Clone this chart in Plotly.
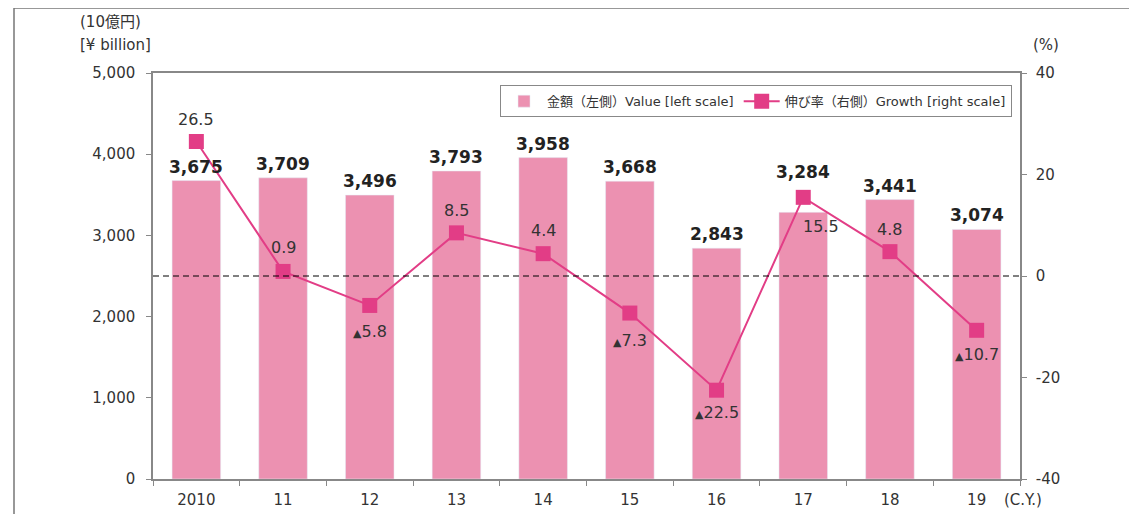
import plotly.graph_objects as go

# Data
years = ["2010", "11", "12", "13", "14", "15", "16", "17", "18", "19"]
value = [3675, 3709, 3496, 3793, 3958, 3668, 2843, 3284, 3441, 3074]
growth = [26.5, 0.9, -5.8, 8.5, 4.4, -7.3, -22.5, 15.5, 4.8, -10.7]
left_ticks = [0, 1000, 2000, 3000, 4000, 5000]
right_ticks = [-40, -20, 0, 20, 40]

# label offsets (pixels) for the value and growth labels
value_shift = [2, 2, 2, 2, 2, 2, 2, 28, 2, 2]
growth_shift = [(0, 22), (0, 24), (0, -26), (0, 22), (0, 23), (0, -27), (0, -22), (18, -29), (0, 22), (0, -24)]

JP = "Noto Sans CJK JP"
TXT = "DejaVu Sans"
MIX = f"{TXT}, {JP}"
BAR_COLOR = "#EC91B1"
LINE_COLOR = "#E23D86"

# page body has an 8px margin, so shift everything up/left by 8
OFF = 8
W, H = 1137 - OFF, 514 - OFF
L, T = 153 - OFF, 73 - OFF
PW, PH = 867, 406

fig = go.Figure()

fig.add_trace(go.Bar(
    x=years, y=value,
    name="金額（左側）Value [left scale]",
    marker_color=BAR_COLOR,
    width=0.56,
))

fig.add_trace(go.Scatter(
    x=years, y=growth, yaxis="y2",
    name="伸び率（右側）Growth [right scale]",
    mode="lines+markers",
    line=dict(color=LINE_COLOR, width=2),
    marker=dict(symbol="square", size=15, color=LINE_COLOR),
))

# bar value labels
for i, (v, s) in enumerate(zip(value, value_shift)):
    fig.add_annotation(
        x=i, y=v, xref="x", yref="y", text=f"<b>{v:,}</b>", showarrow=False,
        yanchor="bottom", yshift=s,
        font=dict(family=TXT, size=17, color="#222222"),
    )

# growth labels
for i, (g, (dx, dy)) in enumerate(zip(growth, growth_shift)):
    txt = f"{g:.1f}" if g >= 0 else f"<span style='font-size:11px'>▲</span>{abs(g):.1f}"
    fig.add_annotation(
        x=i, y=g, xref="x", yref="y2", text=txt, showarrow=False,
        xshift=dx, yshift=dy,
        font=dict(family=TXT, size=16, color="#333333"),
    )

# zero line on the growth scale
fig.add_shape(type="line", xref="paper", yref="y2", x0=0, x1=1, y0=0, y1=0,
              line=dict(color="#000000", width=1, dash="6px,4px"))

# outer frame
fig.add_shape(type="rect", xref="paper", yref="paper",
              x0=(14 - 153) / PW, x1=2, y0=-1, y1=(479 - 8) / PH,
              line=dict(color="#777777", width=1.5), layer="below")

axis_font = dict(family=TXT, size=15, color="#333333")

fig.update_layout(
    width=W, height=H,
    margin=dict(l=L, r=W - L - PW, t=T, b=H - T - PH, autoexpand=False),
    paper_bgcolor="white", plot_bgcolor="white",
    showlegend=True,
    legend=dict(
        orientation="h", x=0.9908, xanchor="right", y=0.97, yanchor="top",
        bordercolor="#888888", borderwidth=1,
        font=dict(family=MIX, size=13, color="#333333"),
        traceorder="normal", itemwidth=36,
    ),
    xaxis=dict(
        type="category", range=[-0.5, 9.5], autorange=False, tickfont=axis_font,
        showline=True, linecolor="#888888", linewidth=1.5, mirror=True,
        ticks="outside", tickson="boundaries", ticklen=5, tickcolor="#888888",
        showgrid=False, tickangle=0, automargin=False, ticklabelstandoff=6,
    ),
    yaxis=dict(
        range=[0, 5000], tickvals=left_ticks, ticktext=[f"{v:,}" for v in left_ticks],
        tickfont=axis_font,
        showline=True, linecolor="#888888", linewidth=1.5,
        ticks="outside", ticklen=5, tickcolor="#888888",
        showgrid=False, zeroline=False, ticklabelstandoff=8, automargin=False,
    ),
    yaxis2=dict(
        range=[-40, 40], tickvals=right_ticks, ticktext=[str(v) for v in right_ticks],
        tickfont=axis_font,
        overlaying="y", side="right",
        showline=True, linecolor="#888888", linewidth=1.5,
        ticks="outside", ticklen=5, tickcolor="#888888",
        showgrid=False, zeroline=False, ticklabelstandoff=6, automargin=False,
    ),
)

units = [
    ("(10億円)", 78, 22, "left"),
    ("[¥ billion]", 78, 45, "left"),
    ("(%)", 1046, 45, "center"),
    ("(C.Y.)", 1002, 500, "left"),
]
for text, px_, py_, anchor in units:
    fig.add_annotation(
        xref="paper", yref="paper",
        x=(px_ - 153) / PW, y=(479 - py_) / PH,
        text=text, showarrow=False, xanchor=anchor, yanchor="middle",
        font=dict(family=MIX, size=15, color="#333333"),
    )

fig.write_html("out.html")
